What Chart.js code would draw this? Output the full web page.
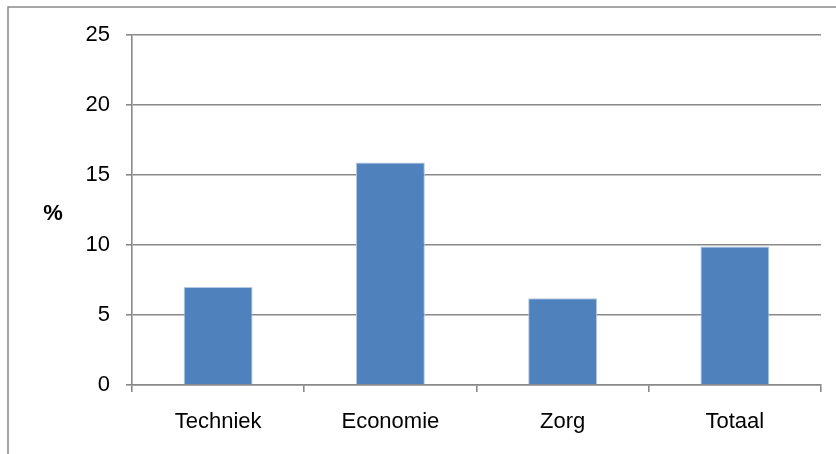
<!DOCTYPE html>
<html>
<head>
<meta charset="utf-8">
<script src="https://cdn.jsdelivr.net/npm/chart.js@4.4.1/dist/chart.umd.min.js"></script>
<style>
  html, body { margin: 0; padding: 0; background: #fff; }
  #wrap { width: 836px; height: 454px; }
</style>
</head>
<body>
<div id="wrap"><canvas id="chart" width="836" height="454"></canvas></div>
<script>
const categories = ["Techniek", "Economie", "Zorg", "Totaal"];
const percentages = [7.0, 15.9, 6.2, 9.9];
const yMin = 0;
const yMax = 25;
const yStep = 5;

const axisGray = "#898989";
const barBlue = "#4F81BD";

// outer frame and the unrotated "%" label next to the value axis
const framePlugin = {
    id: "frame",
    beforeDraw(chart) {
        const ctx = chart.ctx;
        ctx.save();
        ctx.strokeStyle = axisGray;
        ctx.lineWidth = 1.5;
        ctx.beginPath();
        ctx.moveTo(8, chart.height);
        ctx.lineTo(8, 7);
        ctx.lineTo(chart.width, 7);
        ctx.stroke();
        ctx.restore();
    },
    afterDraw(chart) {
        const ctx = chart.ctx;
        const y = chart.scales.y;
        ctx.save();
        ctx.fillStyle = "#000";
        ctx.font = "bold 22px 'Liberation Sans', Arial, sans-serif";
        ctx.textAlign = "center";
        ctx.textBaseline = "middle";
        ctx.fillText("%", 53, (y.top + y.bottom) / 2 + 4);
        ctx.restore();
    }
};

new Chart(document.getElementById("chart"), {
    type: "bar",
    data: {
        labels: categories,
        datasets: [{
            data: percentages,
            backgroundColor: barBlue,
            borderColor: "#B4C8E2",
            borderWidth: 1,
            barPercentage: 0.4,
            categoryPercentage: 1.0
        }]
    },
    options: {
        responsive: false,
        animation: false,
        layout: { padding: { top: 35, right: 15, left: 0, bottom: 0 } },
        plugins: {
            legend: { display: false },
            tooltip: { enabled: false }
        },
        scales: {
            x: {
                grid: {
                    offset: true,
                    drawOnChartArea: false,
                    drawTicks: true,
                    tickLength: 7,
                    color: axisGray,
                    lineWidth: 1.6
                },
                border: { color: axisGray, width: 1.6 },
                ticks: {
                    color: "#000",
                    padding: 17,
                    maxRotation: 0,
                    font: { family: "'Liberation Sans', Arial, sans-serif", size: 22 }
                },
                afterFit(scale) { scale.height = 69; }
            },
            y: {
                min: yMin,
                max: yMax,
                grid: {
                    color: axisGray,
                    lineWidth: 1.6,
                    tickLength: 6
                },
                border: { color: axisGray, width: 1.6 },
                ticks: {
                    stepSize: yStep,
                    color: "#000",
                    padding: 16,
                    font: { family: "'Liberation Sans', Arial, sans-serif", size: 22 }
                },
                afterFit(scale) { scale.width = 132; }
            }
        }
    },
    plugins: [framePlugin]
});
</script>
</body>
</html>
